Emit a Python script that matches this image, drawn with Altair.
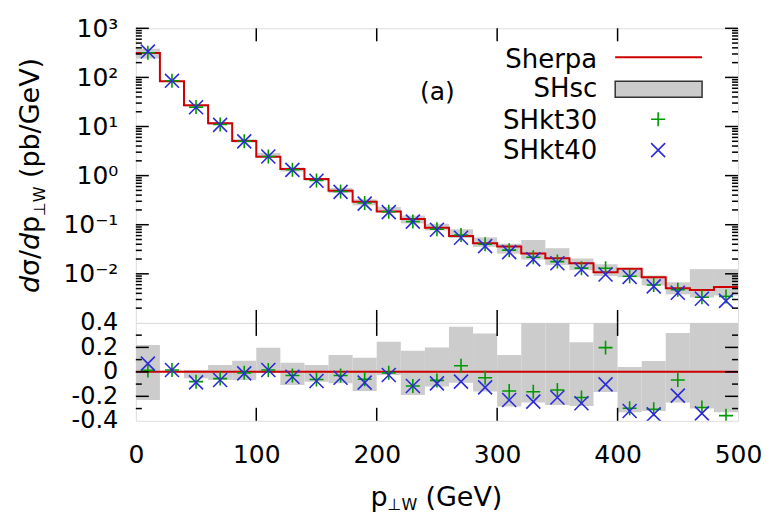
import altair as alt
import pandas as pd

# ---------------- data ----------------
bin_lo = [0, 20, 40, 60, 80, 100, 120, 140, 160, 180, 200, 220, 240,
          260, 280, 300, 320, 340, 360, 380, 400, 420, 440, 460, 480]
bin_hi = [20, 40, 60, 80, 100, 120, 140, 160, 180, 200, 220, 240, 260,
          280, 300, 320, 340, 360, 380, 400, 420, 440, 460, 480, 500]
bin_mid = [10, 30, 50, 70, 90, 110, 130, 150, 170, 190, 210, 230, 250,
           270, 290, 310, 330, 350, 370, 390, 410, 430, 450, 470, 490]

# Sherpa histogram (pb/GeV)
sherpa = [315, 84, 27, 11.6, 5.05, 2.42, 1.36, 0.85, 0.49, 0.295, 0.185, 0.131,
          0.087, 0.059, 0.042, 0.036, 0.026, 0.0208, 0.0165, 0.0108, 0.0127,
          0.0085, 0.0051, 0.0047, 0.0054]

# SHsc scale-variation band, relative to Sherpa (lower / upper edge)
shsc_lo = [-0.23, -0.005, -0.053, -0.067, -0.067, -0.01, -0.107, -0.08, -0.094,
           -0.157, -0.026, -0.189, -0.12, -0.09, -0.16, -0.284, -0.25, -0.27,
           -0.28, -0.165, -0.33, -0.32, -0.25, -0.30, -0.33]
shsc_hi = [0.219, 0.01, 0.015, 0.056, 0.09, 0.198, 0.075, 0.056, 0.137, 0.116,
           0.247, 0.173, 0.2, 0.369, 0.314, 0.137, 0.88, 0.6, 0.243, 0.45, 0.04,
           0.088, 0.317, 1.65, 1.3]

# SHkt30 / SHkt40 relative deviation from Sherpa
kt30_rel = [0.012, 0.015, -0.08, -0.055, -0.008, 0.015, -0.03, -0.062, -0.03,
            -0.06, -0.008, -0.116, -0.07, 0.05, -0.048, -0.157, -0.163, -0.148,
            -0.21, 0.198, -0.298, -0.306, -0.067, -0.292, -0.358]
kt40_rel = [0.067, 0.015, -0.086, -0.067, -0.012, 0.015, -0.04, -0.075, -0.048,
            -0.088, -0.026, -0.116, -0.094, -0.08, -0.127, -0.23, -0.243, -0.21,
            -0.257, -0.102, -0.32, -0.347, -0.194, -0.339, -0.48]

x_ticks = [0, 100, 200, 300, 400, 500]
y_log_labels = [0.01, 0.1, 1, 10, 100, 1000]
y_log_minor = [m * 10.0 ** e for e in range(-3, 3) for m in range(2, 10)]
r_labels = [-0.4, -0.2, 0, 0.2, 0.4]
r_major = [-0.2, 0, 0.2]
r_minor = [-0.3, -0.1, 0.1, 0.3]
x_inner = [100, 200, 300, 400]

# ---------------- tables ----------------
df = pd.DataFrame({
    "lo": bin_lo, "hi": bin_hi, "mid": bin_mid, "sherpa": sherpa,
    "rlo": shsc_lo, "rhi": shsc_hi, "r30": kt30_rel, "r40": kt40_rel,
})
df["band_lo"] = df["sherpa"] * (1 + df["rlo"])
df["band_hi"] = df["sherpa"] * (1 + df["rhi"])
df["kt30"] = df["sherpa"] * (1 + df["r30"])
df["kt40"] = df["sherpa"] * (1 + df["r40"])

step = pd.DataFrame({"x": bin_lo + [bin_hi[-1]], "y": sherpa + [sherpa[-1]]})
one = pd.DataFrame({"k": [0]})

# ---------------- style ----------------
FONT = "DejaVu Sans"
W, H1, H2 = 603, 295, 98
RED, GREEN, BLUE, GRAY = "#cc0000", "#009900", "#2b2bd9", "#cccccc"
PLUS = "M-1,0L1,0M0,-1L0,1"
CROSS = "M-1,-1L1,1M-1,1L1,-1"

xs = alt.Scale(domain=[0, 500], nice=False, zero=False)
ylog = alt.Scale(type="log", domain=[0.001, 1000], nice=False)
ylin = alt.Scale(domain=[-0.4, 0.4], nice=False, zero=False)

ylog_axis = alt.Axis(
    values=y_log_labels, ticks=False, domain=False, grid=False, title=None,
    labelPadding=18, labelFontSize=25, labelFont=FONT, labelColor="black",
    labelOverlap=False, labelFlush=False,
    labelExpr="datum.value >= 999 ? '10³' : datum.value >= 99 ? '10²' : "
              "datum.value >= 9 ? '10¹' : datum.value >= 0.9 ? '10⁰' : "
              "datum.value >= 0.09 ? '10⁻¹' : '10⁻²'")
ylin_axis = alt.Axis(
    values=r_labels, ticks=False, domain=False, grid=False, title=None,
    labelPadding=18, labelFontSize=24, labelFont=FONT, labelColor="black",
    labelOverlap=False, labelFlush=False,
    labelExpr="datum.value == 0 ? '0' : replace(format(datum.value, '.1f'), '−', '-')")
x_axis = alt.Axis(
    values=x_ticks, ticks=False, domain=False, grid=False, title=None,
    labelPadding=22, labelFontSize=25, labelFont=FONT, labelColor="black",
    labelOverlap=False, labelFlush=False, format="d")


def txt(s, x, y, size, angle=0, style="normal", align="left", baseline="alphabetic"):
    return alt.Chart(one).mark_text(
        text=s, fontSize=size, font=FONT, angle=angle, fontStyle=style,
        align=align, baseline=baseline, color="black"
    ).encode(x=alt.value(x), y=alt.value(y))


def hticks(values, scale, axis, length):
    d = pd.DataFrame({"v": values})
    left = alt.Chart(d).mark_rule(color="black", strokeWidth=1.5).encode(
        y=alt.Y("v:Q", scale=scale, axis=axis), x=alt.value(0), x2=alt.value(length))
    right = alt.Chart(d).mark_rule(color="black", strokeWidth=1.5).encode(
        y=alt.Y("v:Q", scale=scale, axis=axis), x=alt.value(W - length), x2=alt.value(W))
    return [left, right]


def vticks(values, h, axis, length):
    d = pd.DataFrame({"v": values})
    top = alt.Chart(d).mark_rule(color="black", strokeWidth=1.5).encode(
        x=alt.X("v:Q", scale=xs, axis=axis), y=alt.value(0), y2=alt.value(length))
    bot = alt.Chart(d).mark_rule(color="black", strokeWidth=1.5).encode(
        x=alt.X("v:Q", scale=xs, axis=axis), y=alt.value(h - length), y2=alt.value(h))
    return [top, bot]


# ---------------- top panel ----------------
band_top = alt.Chart(df).mark_rect(color=GRAY).encode(
    x=alt.X("lo:Q", scale=xs, axis=None), x2="hi:Q",
    y=alt.Y("band_lo:Q", scale=ylog, axis=ylog_axis), y2="band_hi:Q")
line_top = alt.Chart(step).mark_line(interpolate="step-after", color=RED, strokeWidth=2).encode(
    x=alt.X("x:Q", scale=xs, axis=None), y=alt.Y("y:Q", scale=ylog, axis=ylog_axis))
kt30_top = alt.Chart(df).mark_point(shape=PLUS, filled=False, size=196, strokeWidth=1.6,
                                    color=GREEN, opacity=1).encode(
    x=alt.X("mid:Q", scale=xs, axis=None), y=alt.Y("kt30:Q", scale=ylog, axis=ylog_axis))
kt40_top = alt.Chart(df).mark_point(shape=CROSS, filled=False, size=196, strokeWidth=1.6,
                                    color=BLUE, opacity=1).encode(
    x=alt.X("mid:Q", scale=xs, axis=None), y=alt.Y("kt40:Q", scale=ylog, axis=ylog_axis))

legend = [
    txt("Sherpa", 462, 40, 26, align="right"),
    txt("SHsc", 462, 69, 26, align="right"),
    txt("SHkt30", 462, 101, 26, align="right"),
    txt("SHkt40", 462, 131, 26, align="right"),
    alt.Chart(one).mark_rule(color=RED, strokeWidth=2).encode(
        x=alt.value(480), x2=alt.value(567), y=alt.value(29)),
    alt.Chart(one).mark_rect(fill=GRAY, stroke="#333333", strokeWidth=1.5).encode(
        x=alt.value(480), x2=alt.value(567), y=alt.value(53), y2=alt.value(69)),
    alt.Chart(one).mark_point(shape=PLUS, filled=False, size=196, strokeWidth=1.6,
                              color=GREEN, opacity=1).encode(x=alt.value(523), y=alt.value(91)),
    alt.Chart(one).mark_point(shape=CROSS, filled=False, size=196, strokeWidth=1.6,
                              color=BLUE, opacity=1).encode(x=alt.value(523), y=alt.value(122)),
    txt("(a)", 302, 64, 25, align="center", baseline="middle"),
]

# y title built from pieces (rotated), with subscript
ytitle = [
    txt("d", -97, 265, 27, angle=270, style="italic"),
    txt("σ/", -97, 248, 27, angle=270),
    txt("d", -97, 222, 27, angle=270, style="italic"),
    txt("p", -97, 205, 27, angle=270),
    txt("⊥W", -91, 188, 16, angle=270),
    txt("(pb/GeV)", -97, 150, 27, angle=270),
]

top = alt.layer(
    band_top, line_top, kt30_top, kt40_top,
    *hticks(y_log_labels, ylog, ylog_axis, 13), *hticks(y_log_minor, ylog, ylog_axis, 6),
    *vticks(x_inner, H1, None, 13),
    *legend, *ytitle,
).properties(width=W, height=H1)

# ---------------- bottom panel ----------------
band_bot = alt.Chart(df).mark_rect(color=GRAY, clip=True).encode(
    x=alt.X("lo:Q", scale=xs, axis=x_axis), x2="hi:Q",
    y=alt.Y("rlo:Q", scale=ylin, axis=ylin_axis), y2="rhi:Q")
zero_line = alt.Chart(one).mark_rule(color=RED, strokeWidth=2).encode(
    y=alt.datum(0, scale=ylin, axis=ylin_axis))
kt30_bot = alt.Chart(df).mark_point(shape=PLUS, filled=False, size=196, strokeWidth=1.6,
                                    color=GREEN, opacity=1, clip=True).encode(
    x=alt.X("mid:Q", scale=xs, axis=x_axis), y=alt.Y("r30:Q", scale=ylin, axis=ylin_axis))
kt40_bot = alt.Chart(df).mark_point(shape=CROSS, filled=False, size=196, strokeWidth=1.6,
                                    color=BLUE, opacity=1, clip=True).encode(
    x=alt.X("mid:Q", scale=xs, axis=x_axis), y=alt.Y("r40:Q", scale=ylin, axis=ylin_axis))

xtitle = [
    txt("p", 235, 183, 27),
    txt("⊥W", 252, 187, 16),
    txt("(GeV)", 290, 183, 27),
]

bottom = alt.layer(
    band_bot, zero_line, kt30_bot, kt40_bot,
    *hticks(r_major, ylin, ylin_axis, 13), *hticks(r_minor, ylin, ylin_axis, 6),
    *vticks(x_inner, H2, x_axis, 13),
    *xtitle,
).properties(width=W, height=H2)

chart = alt.vconcat(top, bottom, spacing=0, bounds="flush").properties(
    padding={"left": 8, "top": 7, "right": 0, "bottom": 0}
).configure_view(stroke="black", strokeWidth=2).configure(background="white")

chart.save("out.html", embed_options={"renderer": "svg", "actions": False})
